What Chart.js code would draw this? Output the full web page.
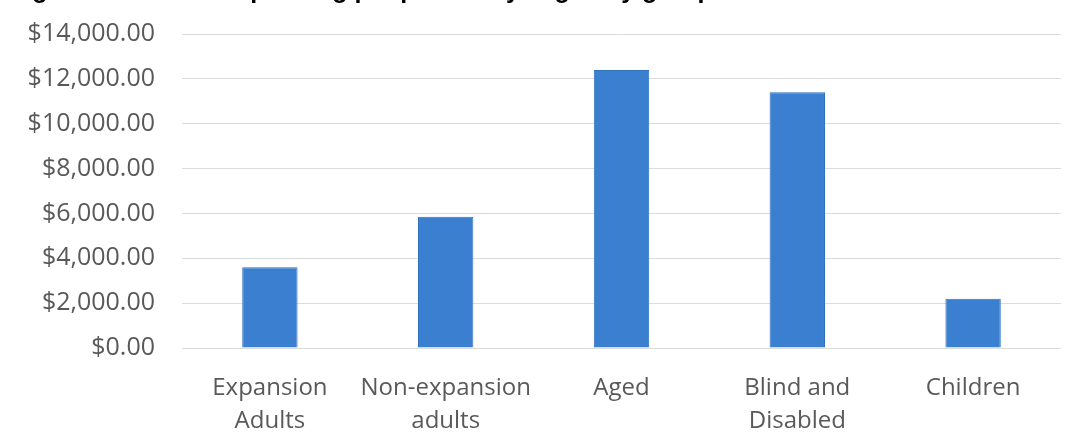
<!DOCTYPE html>
<html>
<head>
<meta charset="utf-8">
<script src="https://cdn.jsdelivr.net/npm/chart.js@4.4.1/dist/chart.umd.min.js"></script>
<style>
  html, body { margin: 0; padding: 0; background: #ffffff; }
  #wrap { position: relative; width: 1075px; height: 445px; }
  canvas { display: block; }
</style>
</head>
<body>
<div id="wrap"><canvas id="chart" width="1075" height="445"></canvas></div>
<script>
// Medicaid spending per person, by eligibility group
const titleText = 'Figure 4: Medicaid spending per person by eligibility group';
const categories = [
  ['Expansion', 'Adults'],
  ['Non-expansion', 'adults'],
  ['Aged'],
  ['Blind and', 'Disabled'],
  ['Children']
];
const spendingPerPerson = [3600, 5850, 12400, 11400, 2200];
const yTickValues = [0, 2000, 4000, 6000, 8000, 10000, 12000, 14000];

const FONT = '"Open Sans", "Noto Sans", sans-serif';

// Heading line sits above the plot, mostly outside the page top
const headingPlugin = {
  id: 'heading',
  afterDraw(chart) {
    const ctx = chart.ctx;
    ctx.save();
    ctx.font = 'bold 25px "Liberation Sans", Arial, sans-serif';
    ctx.fillStyle = '#000000';
    ctx.textBaseline = 'alphabetic';
    ctx.textAlign = 'left';
    ctx.fillText(titleText, 10, -2);
    ctx.restore();
  }
};

const money = v => '$' + v.toLocaleString('en-US', { minimumFractionDigits: 2, maximumFractionDigits: 2 });

new Chart(document.getElementById('chart'), {
  type: 'bar',
  data: {
    labels: categories,
    datasets: [{
      data: spendingPerPerson,
      backgroundColor: '#3b80d0',
      borderColor: '#2f70c0',
      borderWidth: 1,
      categoryPercentage: 1.0,
      barPercentage: 0.315
    }]
  },
  options: {
    responsive: false,
    animation: false,
    devicePixelRatio: 1,
    layout: { padding: { left: 0, right: 14, top: 34, bottom: 0 } },
    plugins: {
      legend: { display: false },
      tooltip: { enabled: false }
    },
    scales: {
      x: {
        grid: { display: false, drawTicks: false },
        border: { display: false },
        ticks: {
          color: '#595959',
          font: { family: FONT, size: 24, lineHeight: 1.4 },
          padding: 23,
          maxRotation: 0,
          autoSkip: false
        },
        afterFit(scale) { scale.height = 97; }
      },
      y: {
        min: 0,
        max: 14000,
        afterBuildTicks(scale) { scale.ticks = yTickValues.map(v => ({ value: v })); },
        grid: { color: '#dcdcdc', lineWidth: 1, drawTicks: false },
        border: { display: false },
        ticks: {
          color: '#595959',
          font: { family: FONT, size: 25 },
          padding: 27,
          callback: v => money(v)
        },
        afterFit(scale) {
          scale.width = 182;
          scale.paddingTop = 0;
          scale.paddingBottom = 0;
        }
      }
    }
  },
  plugins: [headingPlugin]
});
</script>
</body>
</html>
